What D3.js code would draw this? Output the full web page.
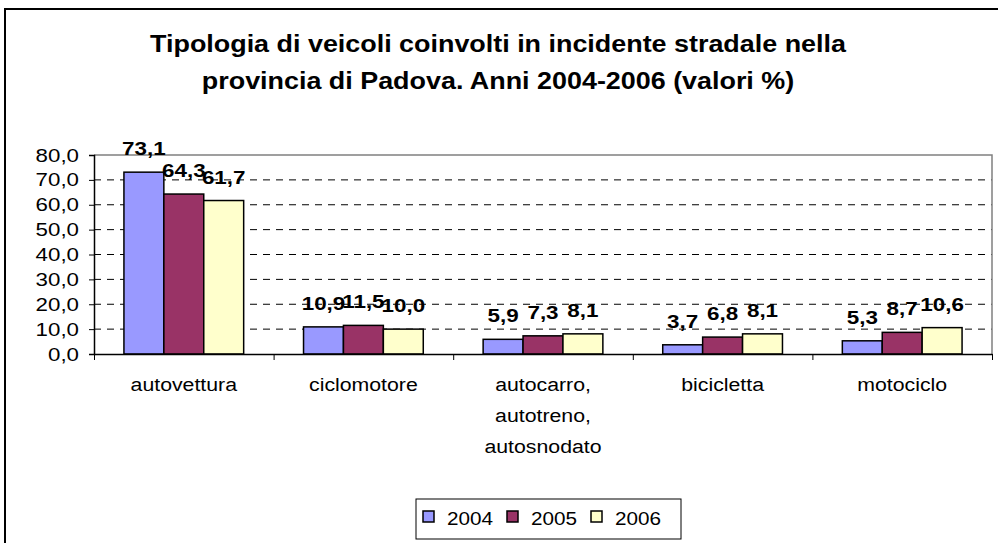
<!DOCTYPE html>
<html>
<head>
<meta charset="utf-8">
<script src="https://cdn.jsdelivr.net/npm/d3@7"></script>
<style>
  body { margin: 0; background: #fff; }
  svg { display: block; font-family: Arial, "Liberation Sans", sans-serif; }
</style>
</head>
<body>
<svg width="998" height="543"></svg>
<script>
// data
const categories = ['autovettura', 'ciclomotore', 'autocarro,\nautotreno,\nautosnodato', 'bicicletta', 'motociclo']
const years = ['2004', '2005', '2006']
const v2004 = [73.1, 10.9, 5.9, 3.7, 5.3]
const v2005 = [64.3, 11.5, 7.3, 6.8, 8.7]
const v2006 = [61.7, 10.0, 8.1, 8.1, 10.6]
const yTicks = [0, 10, 20, 30, 40, 50, 60, 70, 80]
const colors = ['#9999ff', '#993366', '#ffffcc']

const series = [v2004, v2005, v2006]
const fmt = v => v.toFixed(1).replace('.', ',')

var svg = d3.select('svg')

var plot = { left: 94, right: 992, top: 155, bottom: 354 }

// text stretched a bit wider, like the original
const stext = (sel, x, y, str, opts) => {
  const t = sel.append('text')
    .attr('transform', `translate(${x},${y}) scale(${opts.sx || 1},1)`)
    .attr('text-anchor', opts.anchor || 'middle')
    .attr('font-size', opts.size)
    .attr('font-weight', opts.bold ? 'bold' : 'normal')
    .attr('fill', '#000')
    .text(str)
  return t
}

// outer frame
svg.append('rect')
  .attr('x', 5).attr('y', 9)
  .attr('width', 1010).attr('height', 560)
  .attr('fill', '#fff').attr('stroke', '#000').attr('stroke-width', 2)

// title
stext(svg, 498, 52, 'Tipologia di veicoli coinvolti in incidente stradale nella', { size: 23, bold: true, sx: 1.17 })
stext(svg, 498, 89, 'provincia di Padova. Anni 2004-2006 (valori %)', { size: 23, bold: true, sx: 1.17 })

var x = d3.scaleBand().domain(categories).range([plot.left, plot.right])
var xi = d3.scaleBand().domain(years).range([0, x.bandwidth()]).paddingOuter(0.75).paddingInner(0)
var y = d3.scaleLinear().domain([0, 80]).range([plot.bottom, plot.top])

// grid
svg.append('g').selectAll('line')
  .data(yTicks.filter(d => d > 0 && d < 80))
  .enter().append('line')
  .attr('x1', plot.left).attr('x2', plot.right)
  .attr('y1', d => y(d)).attr('y2', d => y(d))
  .attr('stroke', '#000').attr('stroke-width', 1)
  .attr('stroke-dasharray', '7,6')

// plot border top + right
svg.append('path')
  .attr('d', `M${plot.left},${plot.top}H${plot.right}V${plot.bottom}`)
  .attr('fill', 'none').attr('stroke', '#808080').attr('stroke-width', 1.5)

// bars
var groups = svg.append('g').selectAll('g')
  .data(categories)
  .enter().append('g')
  .attr('transform', d => `translate(${x(d)},0)`)

groups.selectAll('rect')
  .data((d, i) => years.map((yr, j) => ({ yr: yr, v: series[j][i], j: j })))
  .enter().append('rect')
  .attr('x', d => xi(d.yr))
  .attr('y', d => y(d.v))
  .attr('width', xi.bandwidth())
  .attr('height', d => y(0) - y(d.v))
  .attr('fill', d => colors[d.j])
  .attr('stroke', '#000').attr('stroke-width', 1.5)

groups.each(function (c, i) {
  const g = d3.select(this)
  years.forEach((yr, j) => {
    const v = series[j][i]
    stext(g, xi(yr) + xi.bandwidth() / 2, y(v) - 17, fmt(v), { size: 19, bold: true, sx: 1.18 })
  })
})

// y axis
var yAxis = svg.append('g')
  .attr('transform', `translate(${plot.left},0)`)
  .call(d3.axisLeft(y).tickValues(yTicks).tickSize(5).tickFormat(d => ''))
yAxis.select('.domain').attr('stroke-width', 1.5)
yAxis.selectAll('text').remove()
yTicks.forEach(t => {
  stext(svg, 79, y(t) + 6.5, fmt(t), { size: 18, anchor: 'end', sx: 1.24 })
})

// x axis
var xAxis = svg.append('g')
  .attr('transform', `translate(0,${plot.bottom})`)
  .call(d3.axisBottom(d3.scaleLinear().domain([0, 5]).range([plot.left, plot.right]))
    .ticks(5).tickSize(6).tickSizeOuter(0).tickFormat(''))
xAxis.select('.domain').attr('stroke-width', 1.5)

categories.forEach(c => {
  c.split('\n').forEach((line, k) => {
    stext(svg, x(c) + x.bandwidth() / 2, 391 + k * 31, line, { size: 19, sx: 1.12 })
  })
})

// legend
var leg = svg.append('g').attr('transform', 'translate(416,499)')
leg.append('rect').attr('width', 265).attr('height', 40)
  .attr('fill', '#fff').attr('stroke', '#000').attr('stroke-width', 1)
years.forEach((yr, j) => {
  const lx = 7 + j * 84
  leg.append('rect').attr('x', lx).attr('y', 12).attr('width', 11).attr('height', 11)
    .attr('fill', colors[j]).attr('stroke', '#000').attr('stroke-width', 1.5)
  stext(leg, lx + 24, 26, yr, { size: 18, anchor: 'start', sx: 1.15 })
})
</script>
</body>
</html>
